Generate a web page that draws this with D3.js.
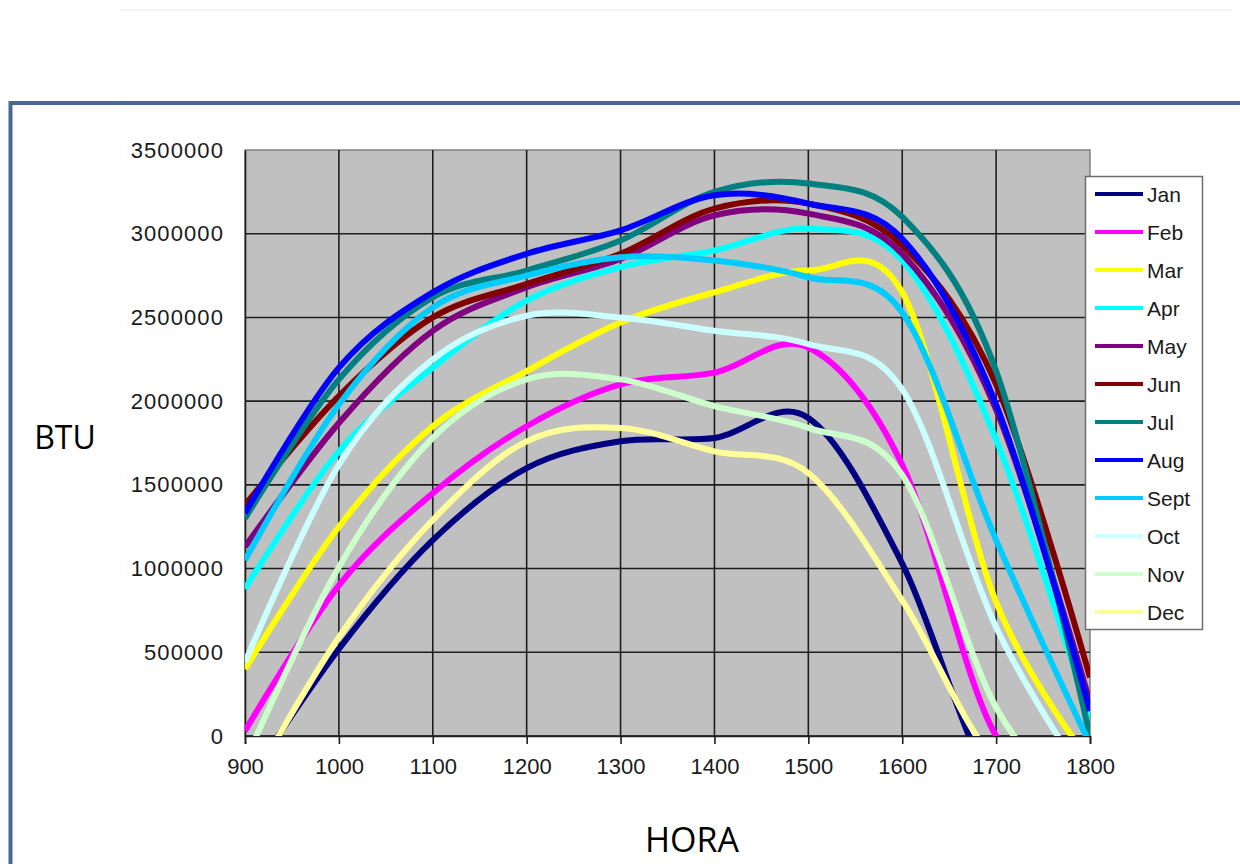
<!DOCTYPE html>
<html>
<head>
<meta charset="utf-8">
<script src="https://cdn.jsdelivr.net/npm/d3@7"></script>
<style>
	body { margin: 0; background: #fff; }
	svg { display: block; }
	.tick-label { font-family: Arial, "Liberation Sans", sans-serif; fill: #1a1a1a; }
	.title { font-family: "Open Sans", "Noto Sans", sans-serif; fill: #000; }
</style>
</head>
<body>
<div id="chart"></div>
<script>
	"use strict";

	// hours on the x axis (HORA)
	var hours = [900, 1000, 1100, 1200, 1300, 1400, 1500, 1600, 1700, 1800];

	// BTU per month, one value per hour; below zero is clipped by the axis
	var jan  = [-300000,  520000, 1170000, 1600000, 1760000, 1780000, 1900000, 1030000, -300000, -300000];
	var feb  = [  30000,  900000, 1450000, 1850000, 2100000, 2170000, 2320000, 1620000,       0, -300000];
	var mar  = [ 400000, 1250000, 1850000, 2180000, 2470000, 2650000, 2780000, 2650000,  800000, -150000];
	var apr  = [ 880000, 1700000, 2200000, 2600000, 2800000, 2900000, 3030000, 2840000, 1770000,  100000];
	var may  = [1130000, 1870000, 2420000, 2680000, 2850000, 3110000, 3120000, 2880000, 1950000,  200000];
	var jun  = [1380000, 2030000, 2500000, 2700000, 2880000, 3150000, 3180000, 2930000, 2100000,  350000];
	var jul  = [1300000, 2130000, 2620000, 2780000, 2960000, 3250000, 3300000, 3100000, 2180000,       0];
	var aug  = [1330000, 2200000, 2650000, 2880000, 3020000, 3230000, 3180000, 2970000, 1980000,  150000];
	var sept = [1050000, 1980000, 2560000, 2750000, 2860000, 2840000, 2740000, 2530000, 1170000,  -50000];
	var oct  = [ 440000, 1620000, 2250000, 2510000, 2500000, 2420000, 2340000, 2070000,  650000, -300000];
	var nov  = [-150000, 1010000, 1780000, 2130000, 2130000, 1970000, 1840000, 1560000,  170000, -500000];
	var dec  = [-350000,  590000, 1290000, 1760000, 1840000, 1700000, 1570000,  810000, -150000, -300000];

	var monthNames = ["Jan", "Feb", "Mar", "Apr", "May", "Jun", "Jul", "Aug", "Sept", "Oct", "Nov", "Dec"];
	var monthValues = [jan, feb, mar, apr, may, jun, jul, aug, sept, oct, nov, dec];
	var monthColors = ["#000080", "#ff00ff", "#ffff00", "#00ffff", "#800080", "#800000",
		"#008080", "#0000ff", "#00ccff", "#ccffff", "#ccffcc", "#ffff99"];

	var yTicks = [0, 500000, 1000000, 1500000, 2000000, 2500000, 3000000, 3500000];

	var width = 1240,
		height = 864,
		plot = {left: 245, right: 1090, top: 150, bottom: 736};

	var series = monthNames.map(function(name, i) {
		return {
			name: name,
			color: monthColors[i],
			values: hours.map(function(h, j) { return {hour: h, btu: monthValues[i][j]}; })
		};
	});

	var svg = d3.select("#chart").append("svg")
		.attr("width", width)
		.attr("height", height);

	// faint traces of the pasted slide
	svg.append("line")
		.attr("x1", 120).attr("x2", 1232).attr("y1", 10).attr("y2", 10)
		.attr("stroke", "#f0f0f0").attr("stroke-width", 1.5);
	svg.append("line")
		.attr("x1", 120).attr("x2", 120).attr("y1", 10).attr("y2", 830)
		.attr("stroke", "#f6f6f6").attr("stroke-width", 1);

	// frame
	svg.append("path")
		.attr("d", "M10.5," + (height + 10) + "V103H" + (width + 10))
		.attr("fill", "none")
		.attr("stroke", "#4a6896")
		.attr("stroke-width", 4);

	var x = d3.scaleLinear().domain([900, 1800]).range([plot.left, plot.right]);
	var y = d3.scaleLinear().domain([0, 3500000]).range([plot.bottom, plot.top]);

	// plot area
	svg.append("rect")
		.attr("x", plot.left).attr("y", plot.top)
		.attr("width", plot.right - plot.left)
		.attr("height", plot.bottom - plot.top)
		.attr("fill", "#c0c0c0")
		.attr("stroke", "#808080")
		.attr("stroke-width", 1.5);

	// grid
	var grid = svg.append("g").attr("stroke", "#1e1e1e").attr("stroke-width", 1.6);
	grid.selectAll("line.h")
		.data(yTicks.slice(0, -1))
		.enter().append("line")
		.attr("class", "h")
		.attr("x1", plot.left).attr("x2", plot.right)
		.attr("y1", function(d) { return y(d); })
		.attr("y2", function(d) { return y(d); });
	grid.selectAll("line.v")
		.data(hours.slice(1, -1))
		.enter().append("line")
		.attr("class", "v")
		.attr("y1", plot.top).attr("y2", plot.bottom)
		.attr("x1", function(d) { return x(d); })
		.attr("x2", function(d) { return x(d); });

	// axes
	var xAxis = svg.append("g")
		.attr("transform", "translate(0," + plot.bottom + ")")
		.call(d3.axisBottom(x).tickValues(hours).tickFormat(d3.format("d")).tickSize(8).tickPadding(14));
	var yAxis = svg.append("g")
		.attr("transform", "translate(" + plot.left + ",0)")
		.call(d3.axisLeft(y).tickValues(yTicks).tickFormat(d3.format("d")).tickSize(0).tickPadding(21));

	[xAxis, yAxis].forEach(function(ax) {
		ax.select(".domain").attr("stroke", "#1e1e1e").attr("stroke-width", 1.6);
		ax.selectAll(".tick line").attr("stroke", "#1e1e1e").attr("stroke-width", 1.6);
		ax.selectAll(".tick text")
			.attr("class", "tick-label")
			.attr("font-size", 22)
			.attr("fill", "#1a1a1a")
			.attr("font-family", "Arial, 'Liberation Sans', sans-serif");
	});
	yAxis.selectAll(".tick text").attr("letter-spacing", 1.1);

	// lines, clipped to the plot area like the original
	svg.append("clipPath").attr("id", "plot-clip")
		.append("rect")
		.attr("x", plot.left).attr("y", plot.top)
		.attr("width", plot.right - plot.left)
		.attr("height", plot.bottom - plot.top);

	var line = d3.line()
		.x(function(d) { return x(d.hour); })
		.y(function(d) { return y(d.btu); })
		.curve(d3.curveCatmullRom.alpha(0));

	svg.append("g")
		.attr("clip-path", "url(#plot-clip)")
		.selectAll("path")
		.data(series)
		.enter().append("path")
		.attr("d", function(d) { return line(d.values); })
		.attr("fill", "none")
		.attr("stroke", function(d) { return d.color; })
		.attr("stroke-width", 6)
		.attr("stroke-linejoin", "round");

	// legend
	var legend = svg.append("g");
	legend.append("rect")
		.attr("x", 1085.5).attr("y", 176.5)
		.attr("width", 117).attr("height", 453)
		.attr("fill", "#fff")
		.attr("stroke", "#6e6e6e")
		.attr("stroke-width", 1.5);

	var entry = legend.selectAll("g.entry")
		.data(series)
		.enter().append("g")
		.attr("class", "entry")
		.attr("transform", function(d, i) { return "translate(0," + (194 + i * 38) + ")"; });
	entry.append("line")
		.attr("x1", 1095).attr("x2", 1143)
		.attr("stroke", function(d) { return d.color; })
		.attr("stroke-width", 4);
	entry.append("text")
		.attr("class", "tick-label")
		.attr("x", 1147)
		.attr("dy", "0.36em")
		.attr("font-size", 21)
		.attr("fill", "#000")
		.text(function(d) { return d.name; });

	// axis titles
	svg.append("text")
		.attr("class", "title")
		.attr("x", 65).attr("y", 449)
		.attr("text-anchor", "middle")
		.attr("font-size", 32)
		.text("BTU");
	svg.append("text")
		.attr("class", "title")
		.attr("x", 692).attr("y", 852)
		.attr("text-anchor", "middle")
		.attr("font-size", 34)
		.text("HORA");
</script>
</body>
</html>
